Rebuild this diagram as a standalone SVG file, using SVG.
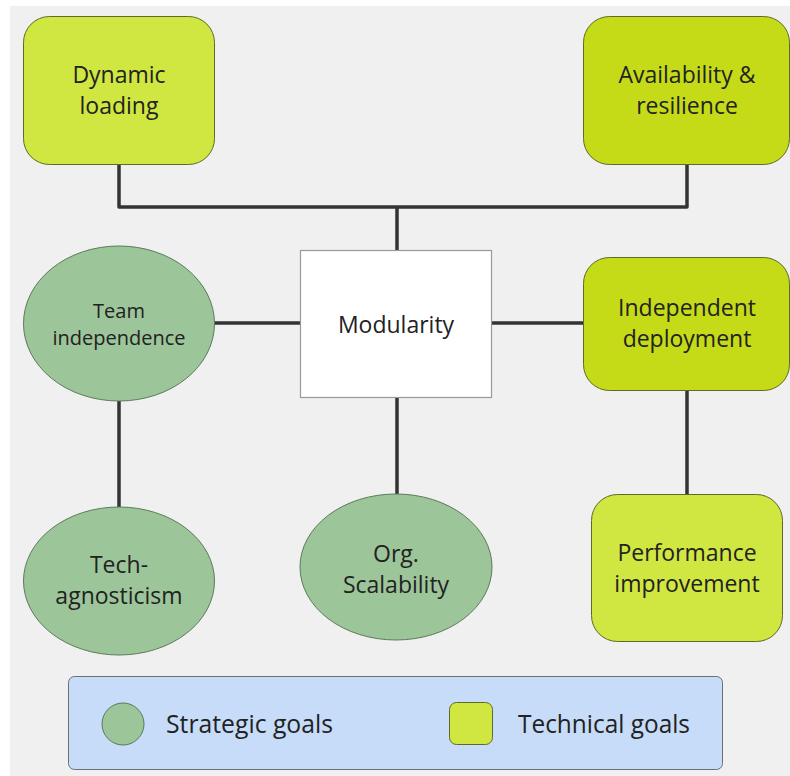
<svg xmlns="http://www.w3.org/2000/svg" width="790" height="776" viewBox="0 0 790 776">
  <style>
    text { font-family: "Open Sans", "Noto Sans", "DejaVu Sans", sans-serif; fill: #222; text-anchor: middle; }
    .t23 { font-size: 23px; }
    .t20 { font-size: 20px; }
    .leg { font-size: 26px; text-anchor: start; }
    .light { fill: #d0e641; stroke: #5e6a2a; stroke-width: 1; }
    .dark { fill: #c5db18; stroke: #5e6a2a; stroke-width: 1; }
    .strat { fill: #9cc59a; stroke: #5c7a5b; stroke-width: 1; }
    .conn { fill: none; stroke: #333; stroke-width: 3.5; stroke-linejoin: round; stroke-linecap: butt; }
  </style>

  <!-- canvas -->
  <rect x="0" y="0" width="790" height="776" fill="#ffffff"/>
  <rect x="10" y="6" width="780" height="770" fill="#f0f0f0"/>

  <!-- connectors -->
  <g id="connectors">
    <path class="conn" d="M119 164 V207 H687 V164"/>
    <path class="conn" d="M397 207 V250"/>
    <path class="conn" d="M214 323 H301"/>
    <path class="conn" d="M491 323 H583"/>
    <path class="conn" d="M119 401 V507"/>
    <path class="conn" d="M397 397 V494"/>
    <path class="conn" d="M687 391 V494"/>
  </g>

  <g id="dynamic-loading">
    <rect class="light" x="23.5" y="16.5" width="191" height="148" rx="26"/>
    <text class="t23" x="119" y="83">Dynamic</text>
    <text class="t23" x="119" y="114">loading</text>
  </g>

  <g id="availability-resilience">
    <rect class="dark" x="583.5" y="16.5" width="206" height="148" rx="26"/>
    <text class="t23" x="687" y="83">Availability &amp;</text>
    <text class="t23" x="687" y="114">resilience</text>
  </g>

  <g id="modularity">
    <rect x="300.5" y="250.5" width="191" height="147" fill="#ffffff" stroke="#999" stroke-width="1.2"/>
    <text class="t23" x="396" y="333">Modularity</text>
  </g>

  <g id="team-independence">
    <ellipse class="strat" cx="119" cy="323.5" rx="95.5" ry="77.5"/>
    <text class="t20" x="119" y="318">Team</text>
    <text class="t20" x="119" y="345">independence</text>
  </g>

  <g id="independent-deployment">
    <rect class="dark" x="583.5" y="257.5" width="206" height="133" rx="26"/>
    <text class="t23" x="687" y="316">Independent</text>
    <text class="t23" x="687" y="347">deployment</text>
  </g>

  <g id="tech-agnosticism">
    <ellipse class="strat" cx="119" cy="581" rx="95.5" ry="74"/>
    <text class="t23" x="119" y="573">Tech-</text>
    <text class="t23" x="119" y="604">agnosticism</text>
  </g>

  <g id="org-scalability">
    <ellipse class="strat" cx="396" cy="567" rx="96" ry="73"/>
    <text class="t23" x="396" y="562">Org.</text>
    <text class="t23" x="396" y="593">Scalability</text>
  </g>

  <g id="performance-improvement">
    <rect class="light" x="591.5" y="494.5" width="191" height="147" rx="26"/>
    <text class="t23" x="687" y="561">Performance</text>
    <text class="t23" x="687" y="592">improvement</text>
  </g>

  <g id="legend">
    <rect x="68.5" y="676.5" width="654" height="93" rx="6" fill="#c6dcf9" stroke="#6b7078" stroke-width="1"/>
    <ellipse class="strat" cx="123" cy="724" rx="21" ry="21"/>
    <text class="leg" x="166" y="733" textLength="167" lengthAdjust="spacingAndGlyphs">Strategic goals</text>
    <rect class="light" x="449.5" y="702.5" width="43" height="42" rx="7"/>
    <text class="leg" x="518" y="733" textLength="172" lengthAdjust="spacingAndGlyphs">Technical goals</text>
  </g>
</svg>
